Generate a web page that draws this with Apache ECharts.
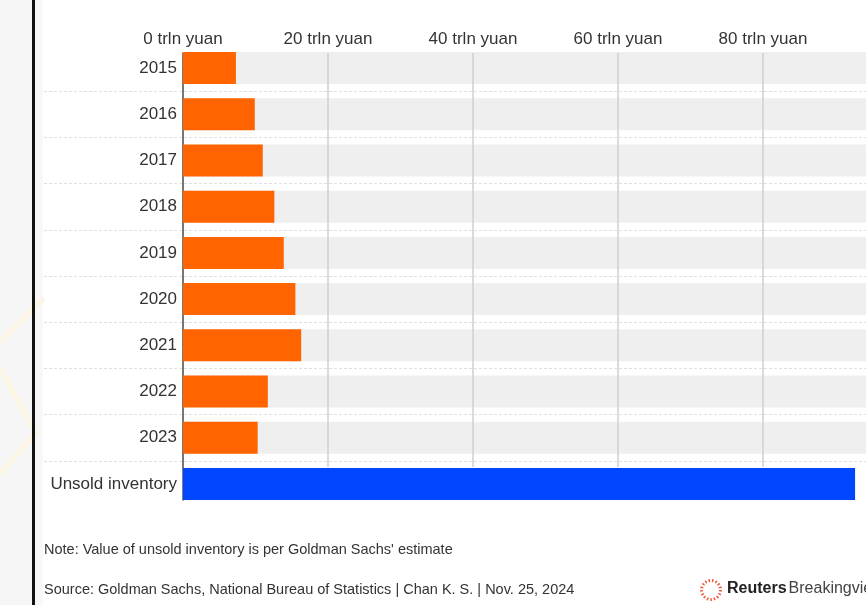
<!DOCTYPE html>
<html>
<head>
<meta charset="utf-8">
<title>China home sales and unsold inventory</title>
<script src="https://cdn.jsdelivr.net/npm/echarts@6/dist/echarts.min.js"></script>
<style>
  html, body { margin: 0; padding: 0; background: #ffffff; }
  #chart { width: 866px; height: 605px; }
</style>
</head>
<body>
<div id="chart"></div>
<script>
// Residential sales by year and the estimated value of unsold inventory (trln yuan)
const categories = ['2015', '2016', '2017', '2018', '2019', '2020', '2021', '2022', '2023', 'Unsold inventory'];
const yearlySales = [7.3, 9.9, 11.0, 12.6, 13.9, 15.5, 16.3, 11.7, 10.3];
const unsoldInventory = 92.7;
const tickValues = [0, 20, 40, 60, 80, 100];
const tickUnit = 'trln yuan';

const AXIS_MAX = tickValues[tickValues.length - 1];
const AXIS_STEP = tickValues[1] - tickValues[0];
const FONT = '"Liberation Sans", Arial, Helvetica, sans-serif';

const salesData = yearlySales.concat([null]);
const inventoryData = yearlySales.map(() => null).concat([unsoldInventory]);
const trackData = yearlySales.map(() => AXIS_MAX).concat([null]);

const PLOT_LEFT = 183;
const PLOT_RIGHT = -42;

function plotGrid(extra) {
  return Object.assign({
    left: PLOT_LEFT, right: PLOT_RIGHT, top: 45, height: 462,
    containLabel: false, outerBoundsMode: 'none'
  }, extra || {});
}

function valueAxis(gridIndex, extra) {
  return Object.assign({
    type: 'value', gridIndex: gridIndex, min: 0, max: AXIS_MAX, interval: AXIS_STEP,
    axisLine: { show: false }, axisTick: { show: false },
    axisLabel: { show: false }, splitLine: { show: false }
  }, extra || {});
}

const chart = echarts.init(document.getElementById('chart'), null, { renderer: 'canvas' });

chart.setOption({
  backgroundColor: '#ffffff',
  animation: false,
  textStyle: { fontFamily: FONT },
  grid: [
    // bars and labels
    plotGrid(),
    // row separators running under the labels
    plotGrid({ left: 44 }),
    // vertical gridlines across the yearly rows
    plotGrid({ top: 53, height: 414 }),
    // zero baseline
    plotGrid({ top: 53, height: 447 })
  ],
  xAxis: [
    valueAxis(0, {
      position: 'top',
      axisLabel: {
        show: true, margin: -3, color: '#333333', fontSize: 17, fontFamily: FONT,
        formatter: v => (v < AXIS_MAX ? v + ' ' + tickUnit : '')
      }
    }),
    valueAxis(1),
    valueAxis(2, {
      z: 5,
      splitLine: { show: true, lineStyle: { color: '#cfcfcf', width: 1.5 } }
    }),
    valueAxis(3)
  ],
  yAxis: [
    {
      type: 'category', gridIndex: 0, data: categories, inverse: true,
      axisLine: { show: false }, axisTick: { show: false },
      axisLabel: { color: '#333333', fontSize: 17, fontFamily: FONT, margin: 6 }
    },
    {
      type: 'category', gridIndex: 1, data: categories, inverse: true,
      axisLine: { show: false }, axisTick: { show: false }, axisLabel: { show: false },
      splitLine: {
        show: true, showMinLine: false, showMaxLine: false,
        lineStyle: { color: '#e0e0e0', width: 1, type: [3, 2] }
      }
    },
    {
      type: 'value', gridIndex: 2, min: 0, max: 1, show: false
    },
    {
      type: 'value', gridIndex: 3, min: 0, max: 1, z: 6,
      axisLine: { show: true, lineStyle: { color: '#555555', width: 1.5 } },
      axisTick: { show: false }, axisLabel: { show: false }, splitLine: { show: false }
    }
  ],
  series: [
    {
      name: 'track', type: 'bar', xAxisIndex: 0, yAxisIndex: 0,
      data: trackData, barWidth: 32, barGap: '-100%', z: 1, silent: true,
      itemStyle: { color: '#efefef' }
    },
    {
      name: 'Sales', type: 'bar', xAxisIndex: 0, yAxisIndex: 0,
      data: salesData, barWidth: 32, barGap: '-100%', z: 6,
      itemStyle: { color: '#ff6400' }
    },
    {
      name: 'Unsold inventory', type: 'bar', xAxisIndex: 0, yAxisIndex: 0,
      data: inventoryData, barWidth: 32, barGap: '-100%', z: 7,
      itemStyle: { color: '#0046ff' }
    }
  ],
  graphic: [
    // page margin on the left
    { type: 'rect', shape: { x: 0, y: 0, width: 32, height: 605 }, style: { fill: '#f6f6f6' }, z: -10, silent: true },
    { type: 'polyline', shape: { points: [[0, 342], [44, 298]] }, style: { stroke: '#fcf5e3', lineWidth: 5, fill: null }, z: -9, silent: true },
    { type: 'polyline', shape: { points: [[0, 368], [36, 433], [0, 474]] }, style: { stroke: '#fcf5e3', lineWidth: 5, fill: null }, z: -9, silent: true },
    { type: 'rect', shape: { x: 35, y: 0, width: 8, height: 605 }, style: { fill: '#f8f8f8' }, z: -10, silent: true },
    { type: 'rect', shape: { x: 32, y: 0, width: 3, height: 605 }, style: { fill: '#111111' }, z: 20, silent: true },
    // footnotes
    {
      type: 'text', left: 44, top: 542,
      style: { text: "Note: Value of unsold inventory is per Goldman Sachs' estimate", fill: '#333333', font: '14.5px ' + FONT }
    },
    {
      type: 'text', left: 44, top: 582,
      style: { text: 'Source: Goldman Sachs, National Bureau of Statistics | Chan K. S. | Nov. 25, 2024', fill: '#333333', font: '14.5px ' + FONT }
    },
    // publisher mark
    {
      type: 'circle', shape: { cx: 711, cy: 590, r: 9.5 },
      style: { fill: null, stroke: '#f05a3c', lineWidth: 3, lineDash: [1.5, 2] }
    },
    {
      type: 'text', left: 727, top: 581,
      style: {
        text: '{b|Reuters}{r|Breakingviews}',
        rich: {
          b: { fill: '#222222', font: 'bold 16px ' + FONT, padding: [0, 2, 0, 0] },
          r: { fill: '#444444', font: '16px ' + FONT }
        }
      }
    }
  ]
});
</script>
</body>
</html>
